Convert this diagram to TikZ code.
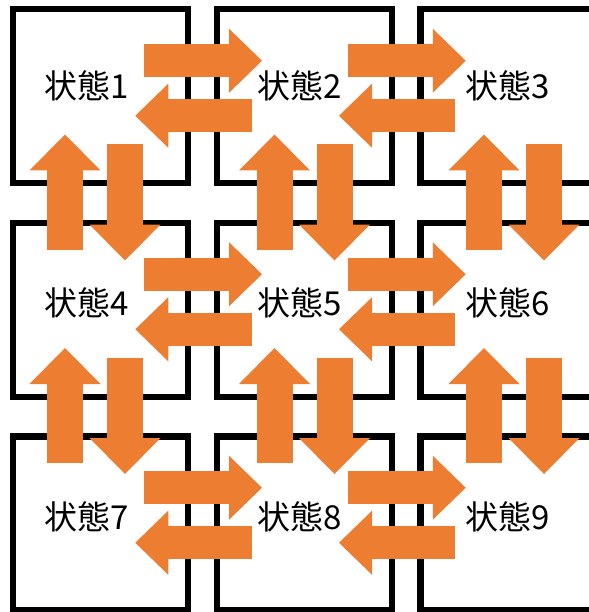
\documentclass[tikz,border=0pt]{standalone}
\usepackage{fontspec}
\newfontfamily\jpfont{Noto Sans CJK JP}
\usetikzlibrary{arrows.meta,calc}
\definecolor{flow}{HTML}{ED7D31}

\tikzset{
  statebox/.style={draw=black, line width=6.5pt, minimum width=175pt, minimum height=174pt, inner sep=0pt},
  statelabel/.style={font=\jpfont\fontsize{33}{40}\selectfont, inner sep=0pt},
  hflow/.style={draw=flow, line width=33pt, -{Triangle[width=64pt,length=33pt,line width=0pt]}},
  vflow/.style={draw=flow, line width=36pt, -{Triangle[width=71pt,length=36pt,line width=0pt]}},
}

\begin{document}
\begin{tikzpicture}[x=1pt, y=-1pt]
  \useasboundingbox (0,0) rectangle (588,612);
  % state boxes
  \foreach \r in {0,1,2} {
    \foreach \c in {0,1,2} {
      \pgfmathtruncatemacro\n{3*\r+\c+1}
      \node[statebox] (s\n) at (100.5+203.75*\c, 96.25+213.5*\r) {};
    }
  }
  % left and right
  \foreach \a/\b in {1/2, 2/3, 4/5, 5/6, 7/8, 8/9} {
    \draw[hflow] ($(s\a.east)+(-47,-35.5)$) -- ($(s\b.west)+(48.5,-35.5)$);
    \draw[hflow] ($(s\b.west)+(38,19.5)$) -- ($(s\a.east)+(-56,19.5)$);
  }
  % up and down
  \foreach \a/\b/\c in {1/4/0, 2/5/1, 3/6/2, 4/7/0, 5/8/1, 6/9/2} {
    \draw[vflow] ($(s\b.north)+(-35.5+5.75*\c,30)$) -- ($(s\a.south)+(-35.5+5.75*\c,-52)$);
    \draw[vflow] ($(s\a.south)+(24.5+5.75*\c,-42)$) -- ($(s\b.north)+(24.5+5.75*\c,41)$);
  }
  % labels
  \foreach \n/\x/\y in {1/86.5/86, 2/300/86, 3/508/86,
                        4/86.5/303, 5/300/303, 6/508/303,
                        7/86.5/516.5, 8/300/516.5, 9/508/516.5} {
    \node[statelabel] (t\n) at (\x,\y) {状態\n};
  }
\end{tikzpicture}
\end{document}
